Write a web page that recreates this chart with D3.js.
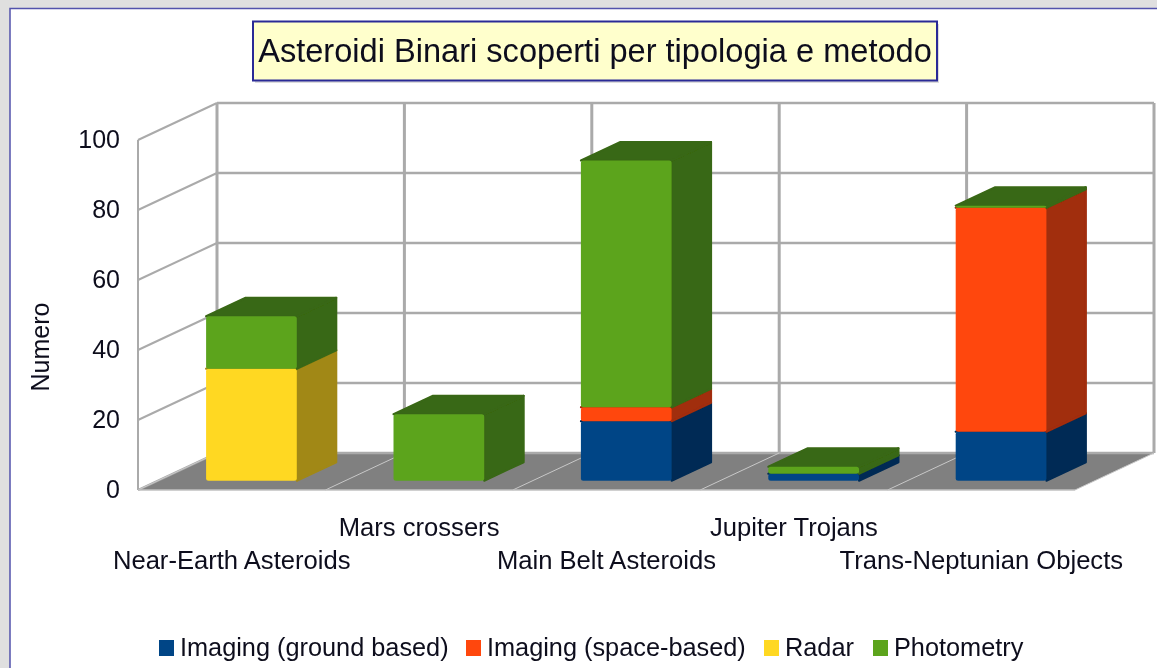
<!DOCTYPE html>
<html>
<head>
<meta charset="utf-8">
<script src="https://cdn.jsdelivr.net/npm/d3@7"></script>
<style>
html, body { margin: 0; padding: 0; background: #dfdfdf; overflow: hidden; }
text { font-family: "Liberation Sans", Arial, sans-serif; fill: #0c0c1c; }
</style>
</head>
<body>
<svg></svg>
<script>
var categories = ["Near-Earth Asteroids", "Mars crossers", "Main Belt Asteroids", "Jupiter Trojans", "Trans-Neptunian Objects"];
var seriesNames = ["Imaging (ground based)", "Imaging (space-based)", "Radar", "Photometry"];
var groundBased = [0, 0, 17, 2, 14];
var spaceBased = [0, 0, 4, 0, 64];
var radar = [32, 0, 0, 0, 0];
var photometry = [15, 19, 70.5, 2, 0.6];
var yTicks = [0, 20, 40, 60, 80, 100];

var colors = ["#004586", "#ff470f", "#ffd820", "#5ba41e"];

var width = 1157, height = 668;

var svg = d3.select("svg")
    .attr("width", width)
    .attr("height", height)
    .style("display", "block");

var defs = svg.append("defs");
defs.append("filter").attr("id", "soft")
    .append("feGaussianBlur").attr("stdDeviation", 0.7);
defs.append("filter").attr("id", "softText")
    .append("feGaussianBlur").attr("stdDeviation", 0.5);

// white panel
svg.append("rect")
    .attr("x", 10).attr("y", 8.5)
    .attr("width", width).attr("height", height)
    .attr("fill", "white")
    .attr("stroke", "#5252ac")
    .attr("stroke-width", 1.5);

var xScale = d3.scaleBand()
    .domain(categories)
    .range([138, 1075])
    .paddingInner(0.516)
    .paddingOuter(0.258);

var yScale = d3.scaleLinear()
    .domain([0, 100])
    .range([490, 140]);

// depth goes from front (0) to wall (1)
var zx = d3.scaleLinear().domain([0, 1]).range([0, 79]);
var zy = d3.scaleLinear().domain([0, 1]).range([0, -37]);

function pt(x, y, z) {
    return [x + zx(z), y + zy(z)];
}
function poly(list) {
    return list.map(function (p) { return p.join(","); }).join(" ");
}

var chart = svg.append("g").attr("filter", "url(#soft)");

var x0 = xScale.range()[0], x1 = xScale.range()[1];
var y0 = yScale(0);

// floor
chart.append("polygon")
    .attr("points", poly([pt(x0, y0, 0), pt(x1, y0, 0), pt(x1, y0, 1), pt(x0, y0, 1)]))
    .attr("fill", "#808080");

var gridColor = "#aaaaaa";

// wall and side grid
yTicks.forEach(function (t) {
    var y = yScale(t);
    chart.append("line")
        .attr("x1", pt(x0, y, 1)[0]).attr("y1", pt(x0, y, 1)[1])
        .attr("x2", pt(x1, y, 1)[0]).attr("y2", pt(x1, y, 1)[1])
        .attr("stroke", gridColor).attr("stroke-width", 2.5);
    chart.append("line")
        .attr("x1", x0).attr("y1", y)
        .attr("x2", pt(x0, y, 1)[0]).attr("y2", pt(x0, y, 1)[1])
        .attr("stroke", gridColor).attr("stroke-width", 2);
});

var step = xScale.step();
d3.range(categories.length + 1).forEach(function (i) {
    var x = x0 + i * step;
    chart.append("line")
        .attr("x1", pt(x, yScale(100), 1)[0]).attr("y1", pt(x, yScale(100), 1)[1])
        .attr("x2", pt(x, y0, 1)[0]).attr("y2", pt(x, y0, 1)[1])
        .attr("stroke", gridColor).attr("stroke-width", 3);
    chart.append("line")
        .attr("x1", x).attr("y1", y0)
        .attr("x2", pt(x, y0, 1)[0]).attr("y2", pt(x, y0, 1)[1])
        .attr("stroke", "#c8c8c8").attr("stroke-width", 1);
});

// left edge and front edge of the floor
chart.append("line")
    .attr("x1", x0).attr("y1", yScale(100)).attr("x2", x0).attr("y2", y0)
    .attr("stroke", gridColor).attr("stroke-width", 2);
chart.append("line")
    .attr("x1", x0).attr("y1", y0).attr("x2", x1).attr("y2", y0)
    .attr("stroke", "#c0c0c0").attr("stroke-width", 1.5);

// stacked bars
var rows = categories.map(function (c, i) {
    return { cat: c, s0: groundBased[i], s1: spaceBased[i], s2: radar[i], s3: photometry[i] };
});
var stack = d3.stack().keys(["s0", "s1", "s2", "s3"])(rows);
var zFront = 0.25, zBack = 0.75;

function segment(g, color, xa, xb, yLow, yHigh) {
    var c = d3.rgb(color);
    var shade = d3.rgb(c.r * 0.63, c.g * 0.63, c.b * 0.63).formatHex();
    g.append("polygon")
        .attr("points", poly([pt(xb, yLow, zFront), pt(xb, yLow, zBack), pt(xb, yHigh, zBack), pt(xb, yHigh, zFront)]))
        .attr("fill", shade).attr("stroke", shade).attr("stroke-width", 2).attr("stroke-linejoin", "round");
    g.append("polygon")
        .attr("points", poly([pt(xa, yHigh, zFront), pt(xb, yHigh, zFront), pt(xb, yHigh, zBack), pt(xa, yHigh, zBack)]))
        .attr("fill", shade).attr("stroke", shade).attr("stroke-width", 2).attr("stroke-linejoin", "round");
    g.append("rect")
        .attr("x", pt(xa, 0, zFront)[0]).attr("y", pt(0, yHigh, zFront)[1])
        .attr("width", xb - xa).attr("height", yLow - yHigh)
        .attr("rx", 2.5)
        .attr("fill", color);
}

stack.forEach(function (layer, k) {
    layer.forEach(function (d, i) {
        if (d[1] - d[0] <= 0) return;
        var xa = xScale(categories[i]);
        var xb = xa + xScale.bandwidth();
        segment(chart, colors[k], xa, xb, yScale(d[0]), yScale(d[1]));
    });
});

// title box
svg.append("rect")
    .attr("x", 255).attr("y", 24).attr("width", 684).attr("height", 59)
    .attr("fill", "#dcdcdc").attr("filter", "url(#soft)");
svg.append("rect")
    .attr("x", 253).attr("y", 21.5).attr("width", 684).attr("height", 59)
    .attr("fill", "#ffffcc").attr("stroke", "#2a2a96").attr("stroke-width", 2)
    .attr("filter", "url(#softText)");

var labels = svg.append("g").attr("filter", "url(#softText)");

// axes
var yAxis = d3.axisLeft(yScale).tickValues(yTicks).tickSize(0).tickPadding(18);
var yG = labels.append("g").attr("transform", "translate(" + x0 + ",0)").call(yAxis);
yG.select(".domain").remove();
yG.attr("font-family", null);
yG.selectAll("text").style("font-size", "25px").attr("dy", "0.3em");

var xAxis = d3.axisBottom(d3.scaleBand().domain(categories).range([x0, x1])).tickSize(0);
var xG = labels.append("g").attr("transform", "translate(0," + y0 + ")").call(xAxis);
xG.select(".domain").remove();
xG.attr("font-family", null);
xG.selectAll("text")
    .style("font-size", "25.6px")
    .attr("dy", 0)
    .attr("y", function (d, i) { return i % 2 ? 46 : 79; });

// y title
labels.append("text")
    .attr("transform", "translate(49,347) rotate(-90)")
    .attr("text-anchor", "middle")
    .style("font-size", "25px")
    .text("Numero");

// title
labels.append("text")
    .attr("x", 595).attr("y", 62)
    .attr("text-anchor", "middle")
    .style("font-size", "32.6px")
    .text("Asteroidi Binari scoperti per tipologia e metodo");

// legend
var legendX = [159, 466, 764, 873];
var legend = labels.selectAll(".leg").data(seriesNames).enter().append("g")
    .attr("class", "leg")
    .attr("transform", function (d, i) { return "translate(" + legendX[i] + ",640)"; });
legend.append("rect").attr("width", 15).attr("height", 16)
    .attr("fill", function (d, i) { return colors[i]; });
legend.append("text").attr("x", 21).attr("y", 16)
    .style("font-size", "25.3px")
    .text(function (d) { return d; });
</script>
</body>
</html>
